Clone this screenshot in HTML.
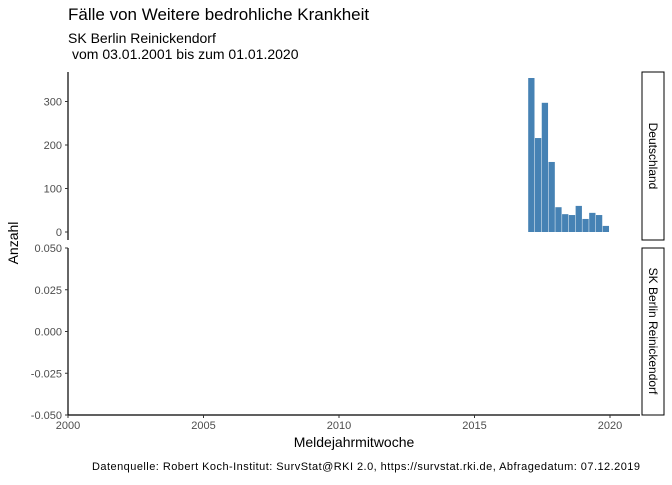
<!DOCTYPE html>
<html><head><meta charset="utf-8"><style>
body{margin:0;background:#fff;}
svg text{font-family:"Liberation Sans",sans-serif;}
</style></head><body>
<svg width="672" height="480" xmlns="http://www.w3.org/2000/svg">
<text x="68" y="20" font-size="17" fill="#000">Fälle von Weitere bedrohliche Krankheit</text>
<text x="68" y="43" font-size="14" fill="#000">SK Berlin Reinickendorf</text>
<text x="72" y="59" font-size="14" fill="#000">vom 03.01.2001 bis zum 01.01.2020</text>
<g id="topPanel"></g>
<g id="botPanel"></g>
<g><rect x="642" y="72" width="22" height="168" fill="#fff" stroke="#000"/>
<text transform="translate(649,156) rotate(90)" text-anchor="middle" font-size="12">Deutschland</text></g>
<g><rect x="642" y="248" width="22" height="167" fill="#fff" stroke="#000"/>
<text transform="translate(649,331) rotate(90)" text-anchor="middle" font-size="12">SK Berlin Reinickendorf</text></g>
<text x="354" y="447" text-anchor="middle" font-size="14">Meldejahrmitwoche</text>
<text transform="translate(18,243) rotate(-90)" text-anchor="middle" font-size="14">Anzahl</text>
<text x="640" y="470" text-anchor="end" font-size="11" textLength="548">Datenquelle: Robert Koch-Institut: SurvStat@RKI 2.0, https://survstat.rki.de, Abfragedatum: 07.12.2019</text>
</svg>
<script>
const quarters=[2017.0,2017.25,2017.5,2017.75,2018.0,2018.25,2018.5,2018.75,2019.0,2019.25,2019.5,2019.75];
const counts=[354,216,297,161,57,41,39,60,30,44,39,14];
const topTicks=[0,100,200,300];
const botTicks=[-0.05,-0.025,0,0.025,0.05];
const botLabels=["-0.050","-0.025","0.000","0.025","0.050"];
const xTicks=[2000,2005,2010,2015,2020];
const NS="http://www.w3.org/2000/svg";
const svgEl=document.querySelector('svg');
const xs=v=>68+(v-2000)*27.1;
const yT=v=>232-v*0.435;
const yB=v=>331.5-v*1670;
function mk(t,a,p){const e=document.createElementNS(NS,t);for(const k in a)e.setAttribute(k,a[k]);(p||svgEl).appendChild(e);return e;}
const gTop=document.getElementById('topPanel'),gBot=document.getElementById('botPanel');
quarters.forEach((q,i)=>{const r=mk('rect',{x:xs(q)-0.5,y:yT(counts[i]),width:6.3,height:yT(0)-yT(counts[i]),fill:'#4682b4'},gTop);

});
mk('line',{x1:68,y1:72,x2:68,y2:240,stroke:'#000','stroke-width':1.2},gTop);
topTicks.forEach(t=>{mk('line',{x1:65,x2:68,y1:yT(t),y2:yT(t),stroke:'#333'},gTop);
const tx=mk('text',{x:62,y:yT(t)+4,'text-anchor':'end','font-size':11,fill:'#4d4d4d'},gTop);tx.textContent=t;

});
mk('line',{x1:68,y1:248,x2:68,y2:415,stroke:'#000','stroke-width':1.2},gBot);
mk('line',{x1:68,y1:415,x2:640,y2:415,stroke:'#000','stroke-width':1.2},gBot);
botTicks.forEach((t,i)=>{mk('line',{x1:65,x2:68,y1:yB(t),y2:yB(t),stroke:'#333'},gBot);
const tx=mk('text',{x:62,y:yB(t)+4,'text-anchor':'end','font-size':11,fill:'#4d4d4d'},gBot);tx.textContent=botLabels[i];

});
xTicks.forEach(t=>{mk('line',{x1:xs(t),x2:xs(t),y1:415,y2:418,stroke:'#333'},gBot);
const tx=mk('text',{x:xs(t),y:429,'text-anchor':'middle','font-size':11,fill:'#4d4d4d'},gBot);tx.textContent=t;

});
</script>
</body></html>
